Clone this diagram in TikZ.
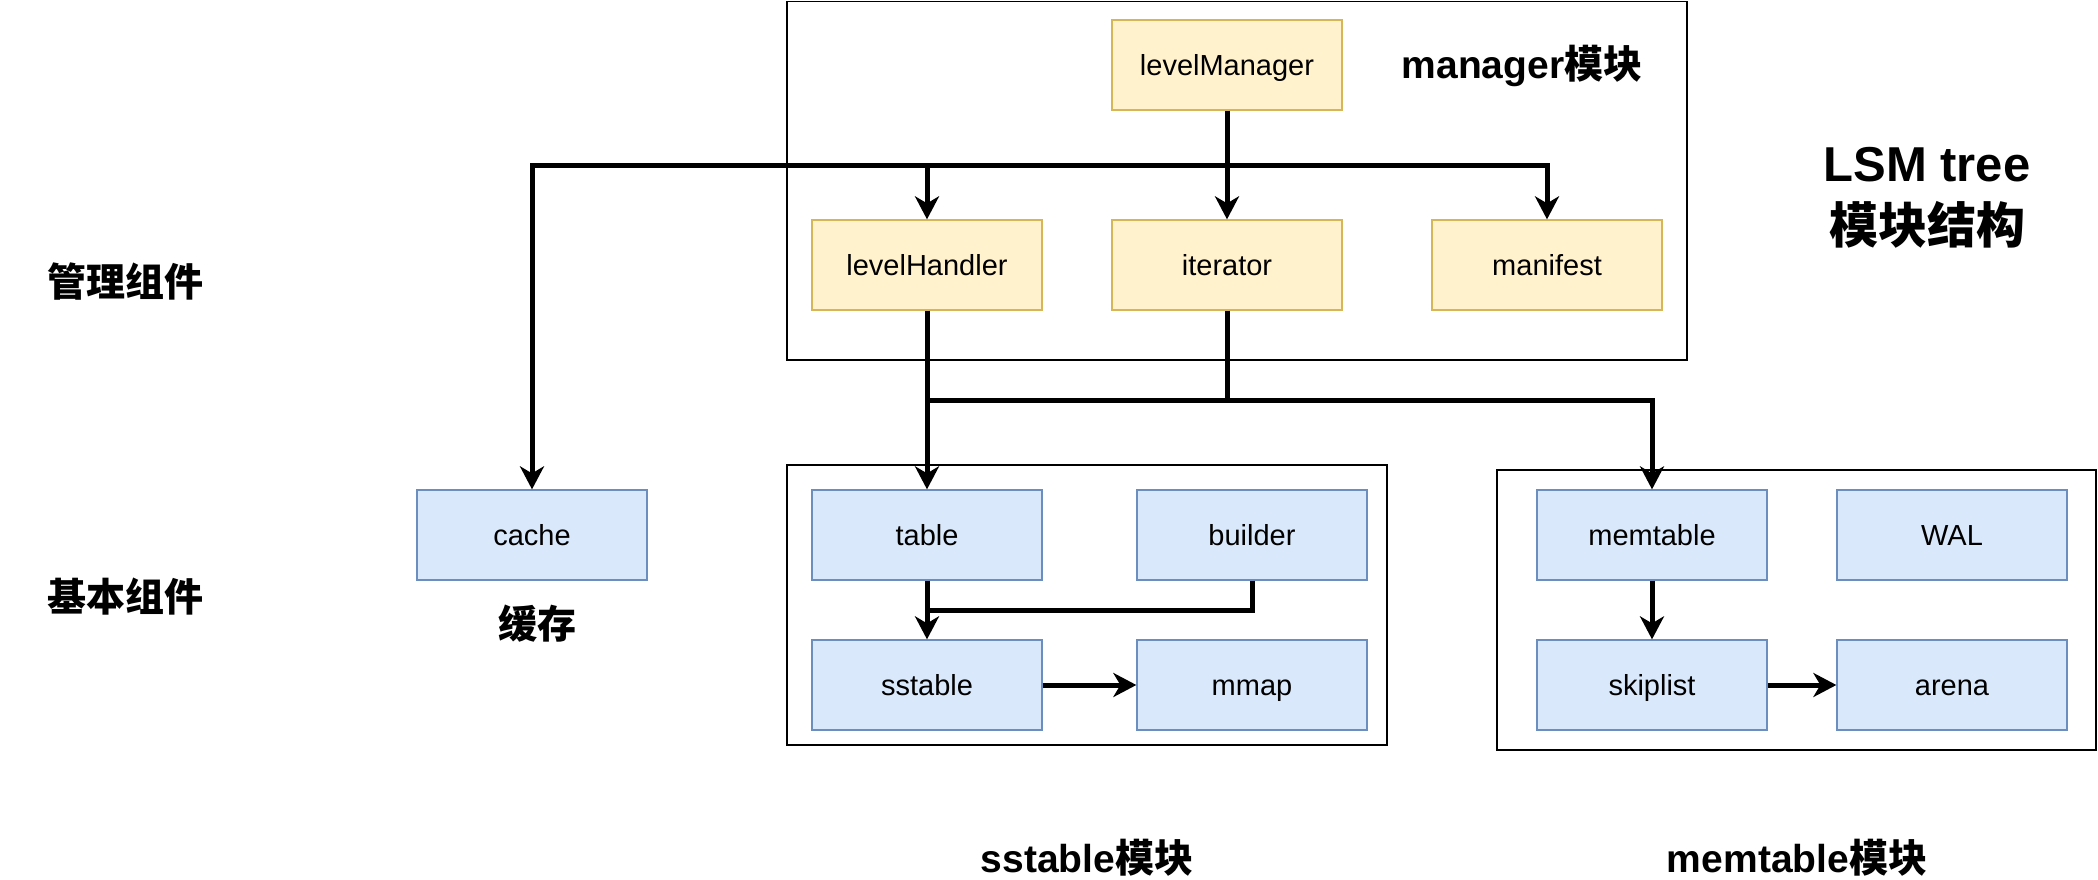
\documentclass[tikz,border=0pt]{standalone}
\usepackage{fontspec}
\setmainfont{Liberation Sans}
\newfontfamily\cjk{Noto Sans CJK SC}
\usetikzlibrary{arrows.meta}
\definecolor{yfill}{HTML}{FFF2CC}
\definecolor{ydraw}{HTML}{D6B656}
\definecolor{bfill}{HTML}{DAE8FC}
\definecolor{bdraw}{HTML}{6C8EBF}
\tikzset{
  comp/.style={minimum width=230pt, minimum height=90pt, inner sep=0pt, line width=1.3pt,
    font=\fontsize{29}{34}\selectfont, text height=24pt, text depth=3pt},
  ycomp/.style={comp, fill=yfill, draw=ydraw},
  bcomp/.style={comp, fill=bfill, draw=bdraw},
  container/.style={draw=black, line width=1.5pt},
  wire/.style={draw=black, line width=5pt},
  conn/.style={wire, -{Stealth[length=23pt,width=24pt,inset=7pt]}},
  lbl/.style={font=\fontsize{39}{44}\selectfont\bfseries, inner sep=0pt},
  biglbl/.style={font=\fontsize{49}{58}\selectfont\bfseries, inner sep=0pt, align=center},
}
\begin{document}
\begin{tikzpicture}[x=1pt,y=-1pt]
\useasboundingbox (0,0) rectangle (2098,880);
% containers
\draw[container] (787,1.5) rectangle (1687,360);
\draw[container] (787,465) rectangle (1387,745);
\draw[container] (1497,470) rectangle (2096,750);
% manager nodes
\node[ycomp] (lm) at (1227,65) {levelManager};
\node[ycomp] (lh) at (927,265) {levelHandler};
\node[ycomp] (it) at (1227,265) {iterator};
\node[ycomp] (mf) at (1547,265) {manifest};
% basic nodes
\node[bcomp] (cache) at (532,535) {cache};
\node[bcomp] (tbl) at (927,535) {table};
\node[bcomp] (bld) at (1252,535) {builder};
\node[bcomp] (sst) at (927,685) {sstable};
\node[bcomp] (mmap) at (1252,685) {mmap};
\node[bcomp] (mem) at (1652,535) {memtable};
\node[bcomp] (wal) at (1952,535) {WAL};
\node[bcomp] (skip) at (1652,685) {skiplist};
\node[bcomp] (arena) at (1952,685) {arena};
% junctions
\coordinate (j1) at (1227,165);
\coordinate (j2) at (927,400);
\coordinate (j3) at (927,610);
% connectors
\draw[conn] (lm.south) -- (it.north);
\draw[conn] (j1) -| (lh.north);
\draw[conn] (j1) -| (mf.north);
\draw[conn] (j1) -| (cache.north);
\draw[conn] (lh.south) -- (tbl.north);
\draw[conn] (j2) -| (mem.north);
\draw[wire] (it.south) |- (j2);
\draw[conn] (tbl.south) -- (sst.north);
\draw[wire] (bld.south) |- (j3);
\draw[conn] (sst.east) -- (mmap.west);
\draw[conn] (mem.south) -- (skip.north);
\draw[conn] (skip.east) -- (arena.west);
% labels
\node[lbl] (lmgr) at (1522,66) {manager{\cjk 模块}};
\node[biglbl] (ltitle) at (1927,198) {LSM tree\\[4pt]{\cjk 模块结构}};
\node[lbl] (lmanage) at (125,282) {\cjk 管理组件};
\node[lbl] (lbasic) at (125,597) {\cjk 基本组件};
\node[lbl] (lcache) at (537,624) {\cjk 缓存};
\node[lbl] (lsst) at (1087,858) {sstable{\cjk 模块}};
\node[lbl] (lmem) at (1797,858) {memtable{\cjk 模块}};
\end{tikzpicture}
\end{document}
